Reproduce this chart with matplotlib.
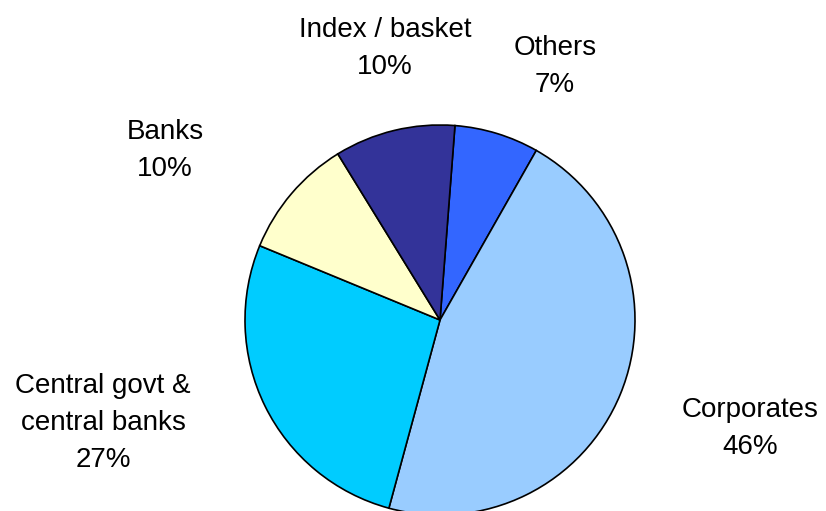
import matplotlib
matplotlib.use('Agg')
import matplotlib.pyplot as plt

plt.rcParams['font.family'] = ['Liberation Sans', 'DejaVu Sans']

# holders, clockwise from the top
Labels = ['Others', 'Corporates', 'Central govt &\ncentral banks', 'Banks', 'Index / basket']
Shares = [7, 46, 27, 10, 10]
Colours = ['#3366FF', '#99CCFF', '#00CCFF', '#FFFFCC', '#333399']

# where each label block sits (figure pixels, y measured from the bottom)
LabelPos = [(555, 445), (750, 83), (103, 88), (165, 361), (385, 463)]

W, H = 826, 511
fig = plt.figure(figsize=(W/100, H/100), dpi=100)
ax = fig.add_axes([0, 0, 1, 1])

ax.pie(Shares, colors=Colours, startangle=85.6, counterclock=False,
       center=(440, H-320), radius=195, frame=True,
       wedgeprops=dict(edgecolor='black', linewidth=1.2))

for lab, val, (x, y) in zip(Labels, Shares, LabelPos):
    ax.text(x, y, f'{lab}\n{val}%', ha='center', va='center',
            fontsize=20, color='black', linespacing=1.55)

ax.set_xlim(0, W)
ax.set_ylim(0, H)
ax.set_aspect('equal')
ax.axis('off')

fig.savefig('out.png', dpi=100)
